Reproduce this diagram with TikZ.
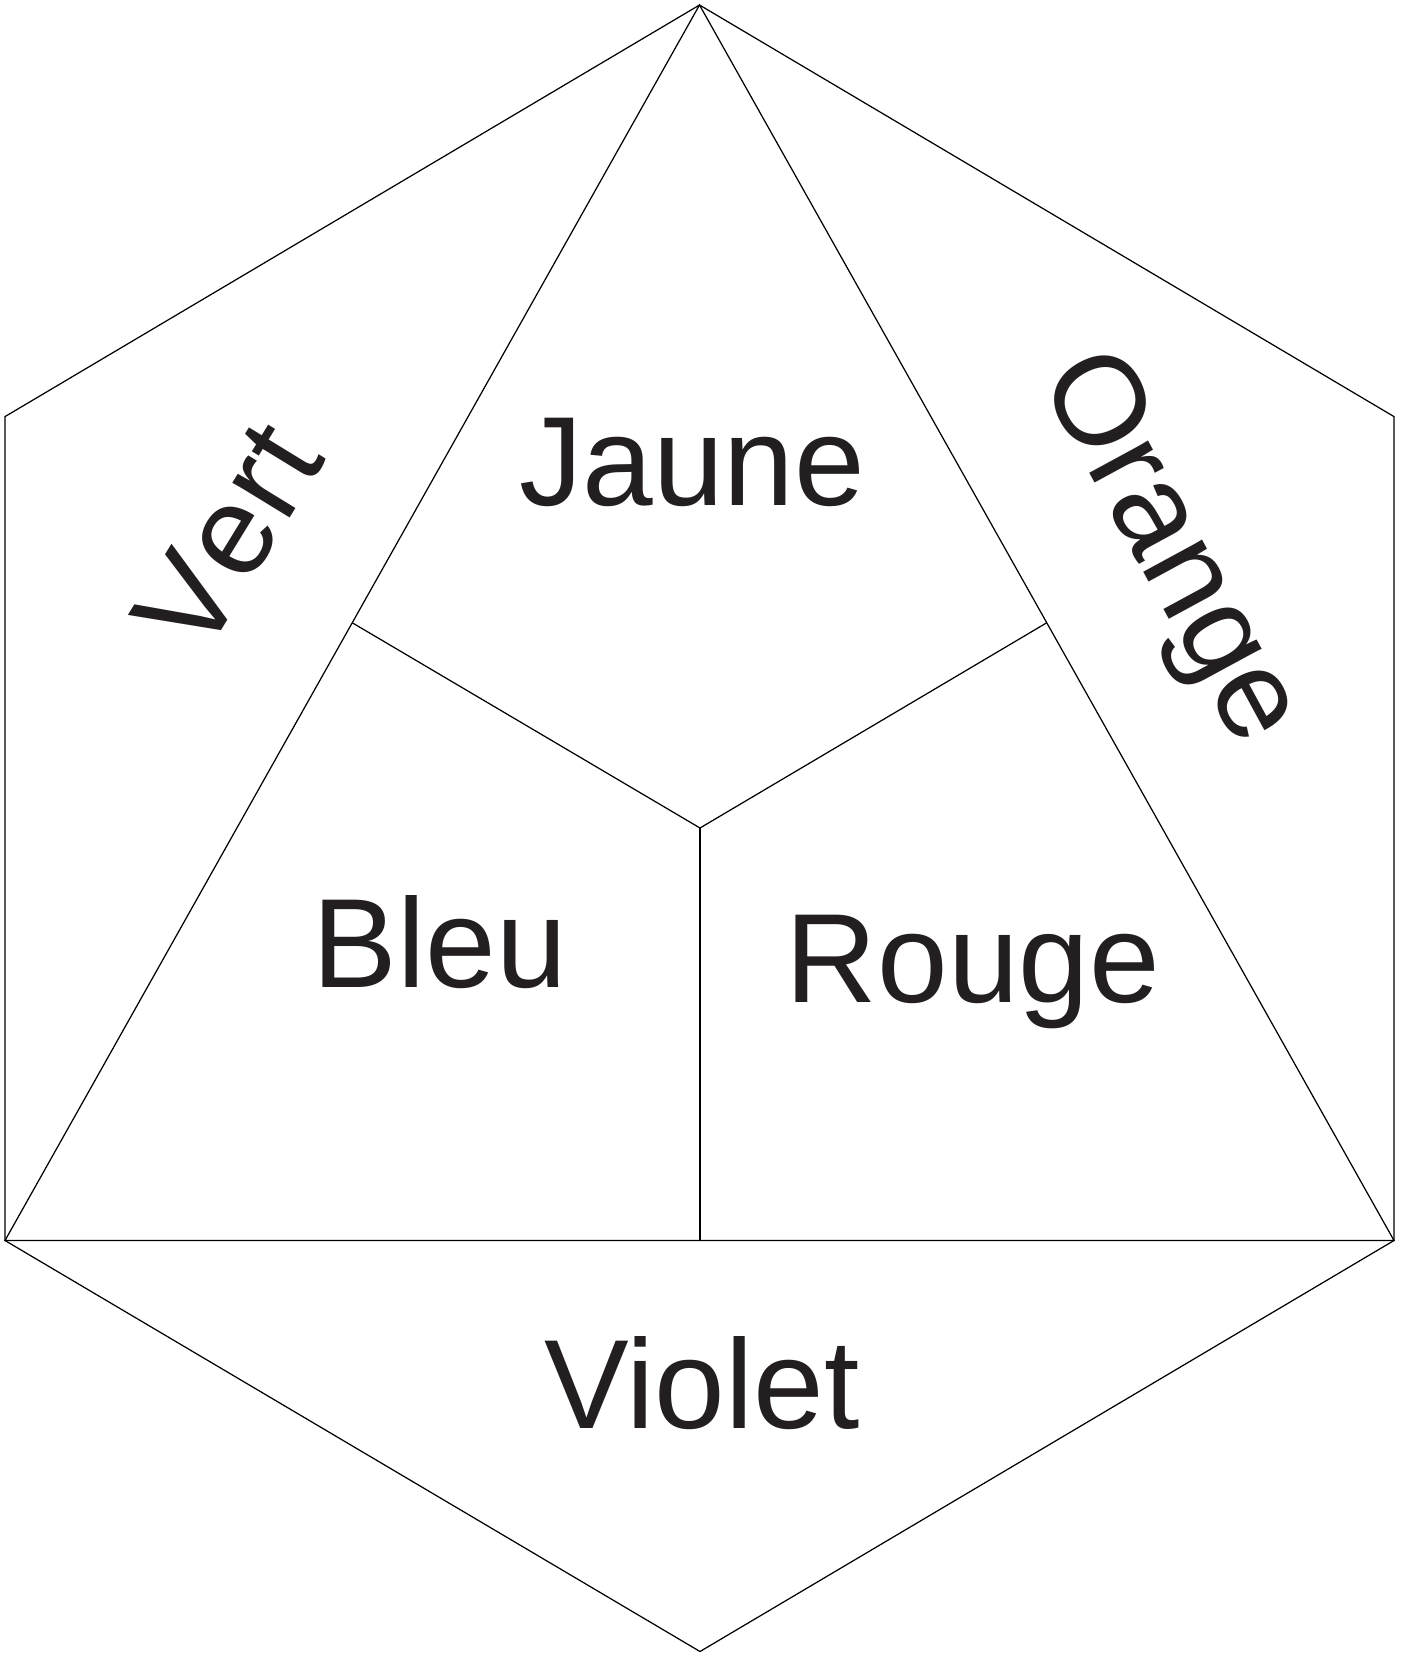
\documentclass[tikz,border=0pt]{standalone}
\usepackage{fontspec}
\setmainfont{Liberation Sans}
\usetikzlibrary{calc}
\definecolor{ink}{RGB}{35,31,32}
\begin{document}
\begin{tikzpicture}[x=0.01cm,y=-0.01cm,
  edge/.style={draw=black,line width=0.35pt},
  lbl/.style={inner sep=0pt,text=ink,font=\fontsize{36.1pt}{40pt}\selectfont}]
\useasboundingbox (0,0) rectangle (1405,1654);
% hexagon vertices
\coordinate (T)  at (699.5,5);
\coordinate (UL) at (5,416.6);
\coordinate (LL) at (5,1240.5);
\coordinate (B)  at (700,1651.5);
\coordinate (LR) at (1394,1240.5);
\coordinate (UR) at (1394,416.6);
% inner points
\coordinate (ML) at ($(T)!0.5!(LL)$);
\coordinate (MR) at ($(T)!0.5!(LR)$);
\coordinate (C)  at (700,828);
\coordinate (MB) at (700,1240.5);
% outline
\draw[edge] (T) -- (UR) -- (LR) -- (B) -- (LL) -- (UL) -- cycle;
% triangle
\draw[edge] (T) -- (LL) -- (LR) -- cycle;
% inner divisions
\draw[edge] (ML) -- (C);
\draw[edge] (MR) -- (C);
\draw[edge] (C) -- (MB);
% labels
\node[lbl,anchor=base] (jaune) at (692,505) {Jaune};
\node[lbl,anchor=base] (bleu) at (440,987) {Bleu};
\node[lbl,anchor=base] (rouge) at (973,1002) {Rouge};
\node[lbl,anchor=base] (violet) at (702,1428) {Violet};
\node[lbl,rotate=58.5] (vert) at (228,537) {V\kern0.5pt e\kern0.5pt r\kern0.5pt t};
\node[lbl,rotate=-61.5] (orange) at (1167,550) {Orange};
\end{tikzpicture}
\end{document}
